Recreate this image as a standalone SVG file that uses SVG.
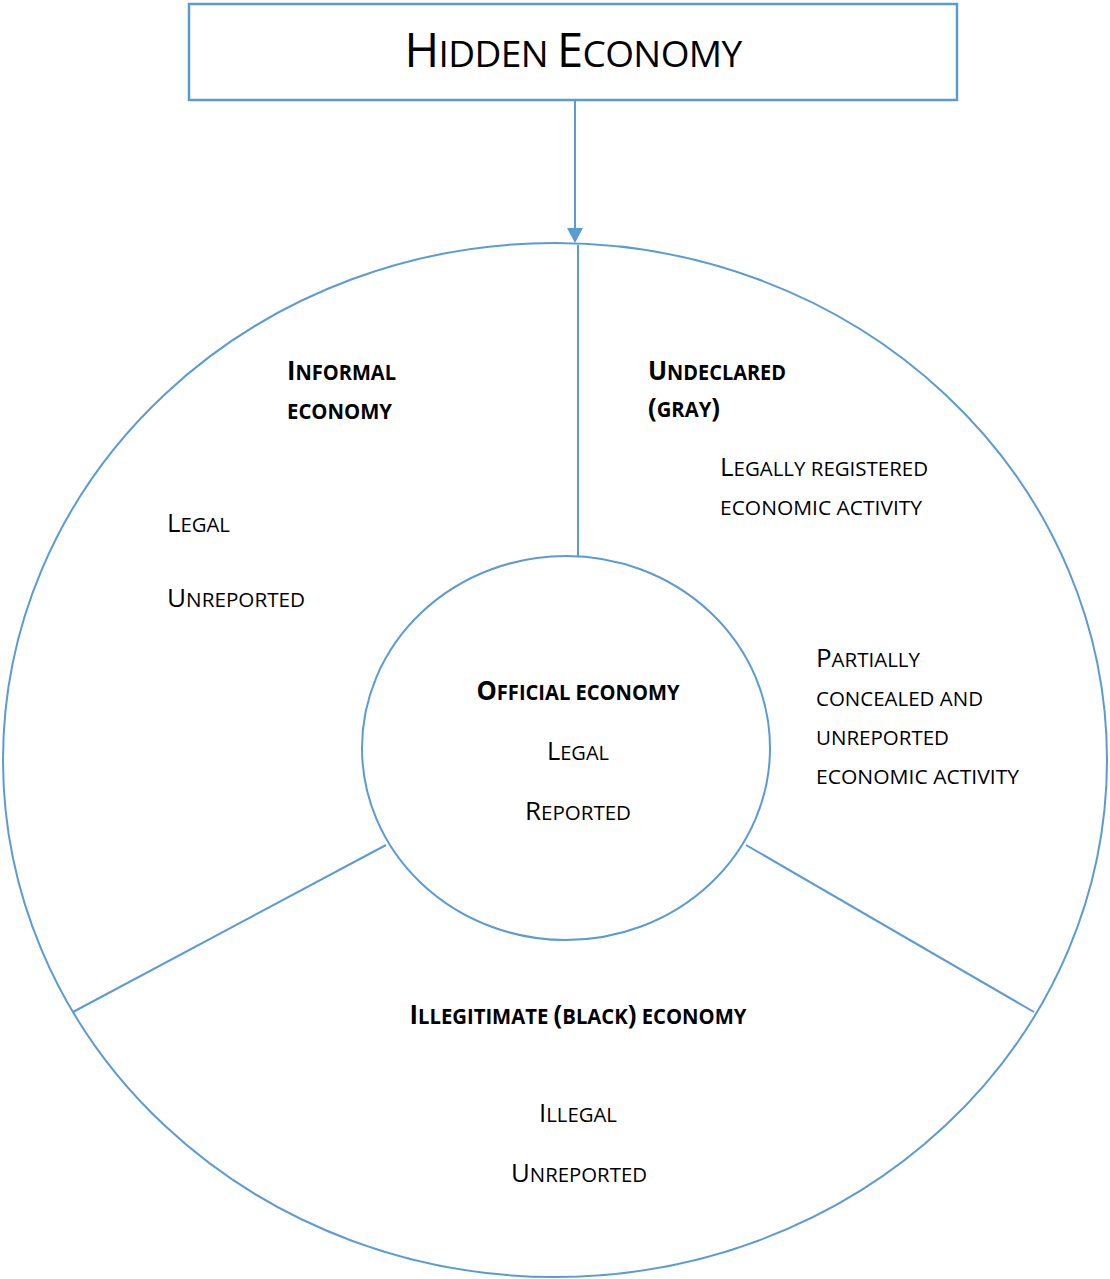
<svg xmlns="http://www.w3.org/2000/svg" width="1110" height="1279" viewBox="0 0 1110 1279">
<style>
.ln{fill:none;stroke:#5B9BD5;stroke-width:2}
.t{font-family:"Open Sans","Noto Sans","Liberation Sans",sans-serif;font-size:20.5px;fill:#000}
.c{font-size:26px}
.b{font-weight:bold}
.m{text-anchor:middle}
.title{font-size:37px;letter-spacing:-0.6px}
.tc{font-size:47px}
</style>
<rect width="1110" height="1279" fill="#fff"/>
<g id="connectors">
<line class="ln" x1="575" y1="100" x2="575" y2="228"/>
<path d="M567,228 L583,228 L575,243 Z" fill="#5B9BD5"/>
<line class="ln" x1="578" y1="245" x2="578" y2="556"/>
<line class="ln" x1="386" y1="845" x2="73" y2="1012"/>
<line class="ln" x1="746" y1="845" x2="1034" y2="1012"/>
</g>
<g id="hidden-economy">
<rect x="189" y="4" width="768" height="96" fill="#fff" stroke="#5B9BD5" stroke-width="2.5"/>
<text class="t title m" x="573" y="67"><tspan class="tc">H</tspan>IDDEN <tspan class="tc">E</tspan>CONOMY</text>
</g>
<g id="outer-circle">
<ellipse class="ln" cx="555" cy="760" rx="552" ry="517"/>
</g>
<g id="informal-economy">
<text class="t b" x="287" y="380" textLength="109" lengthAdjust="spacingAndGlyphs"><tspan class="c">I</tspan>NFORMAL</text>
<text class="t b" x="287" y="419" textLength="105" lengthAdjust="spacingAndGlyphs">ECONOMY</text>
<text class="t" x="167" y="532" textLength="63" lengthAdjust="spacingAndGlyphs"><tspan class="c">L</tspan>EGAL</text>
<text class="t" x="167" y="607" textLength="138" lengthAdjust="spacingAndGlyphs"><tspan class="c">U</tspan>NREPORTED</text>
</g>
<g id="undeclared-economy">
<text class="t b" x="648" y="380" textLength="138" lengthAdjust="spacingAndGlyphs"><tspan class="c">U</tspan>NDECLARED</text>
<text class="t b" x="648" y="417" textLength="72" lengthAdjust="spacingAndGlyphs"><tspan class="c">(</tspan>GRAY<tspan class="c">)</tspan></text>
<text class="t" x="720" y="476" textLength="208" lengthAdjust="spacingAndGlyphs"><tspan class="c">L</tspan>EGALLY REGISTERED</text>
<text class="t" x="720" y="515" textLength="202" lengthAdjust="spacingAndGlyphs">ECONOMIC ACTIVITY</text>
<text class="t" x="816" y="667" textLength="104" lengthAdjust="spacingAndGlyphs"><tspan class="c">P</tspan>ARTIALLY</text>
<text class="t" x="816" y="706" textLength="167" lengthAdjust="spacingAndGlyphs">CONCEALED AND</text>
<text class="t" x="816" y="745" textLength="133" lengthAdjust="spacingAndGlyphs">UNREPORTED</text>
<text class="t" x="816" y="784" textLength="203" lengthAdjust="spacingAndGlyphs">ECONOMIC ACTIVITY</text>
</g>
<g id="official-economy">
<ellipse class="ln" cx="566" cy="748" rx="204" ry="192" fill="#fff"/>
<text class="t b m" x="578" y="700" textLength="203" lengthAdjust="spacingAndGlyphs"><tspan class="c">O</tspan>FFICIAL ECONOMY</text>
<text class="t m" x="578" y="760" textLength="62" lengthAdjust="spacingAndGlyphs"><tspan class="c">L</tspan>EGAL</text>
<text class="t m" x="578" y="820" textLength="106" lengthAdjust="spacingAndGlyphs"><tspan class="c">R</tspan>EPORTED</text>
</g>
<g id="illegitimate-economy">
<text class="t b m" x="578" y="1024" textLength="337" lengthAdjust="spacingAndGlyphs"><tspan class="c">I</tspan>LLEGITIMATE <tspan class="c">(</tspan>BLACK<tspan class="c">)</tspan> ECONOMY</text>
<text class="t m" x="578" y="1122" textLength="78" lengthAdjust="spacingAndGlyphs"><tspan class="c">I</tspan>LLEGAL</text>
<text class="t m" x="579" y="1182" textLength="136" lengthAdjust="spacingAndGlyphs"><tspan class="c">U</tspan>NREPORTED</text>
</g>
</svg>
